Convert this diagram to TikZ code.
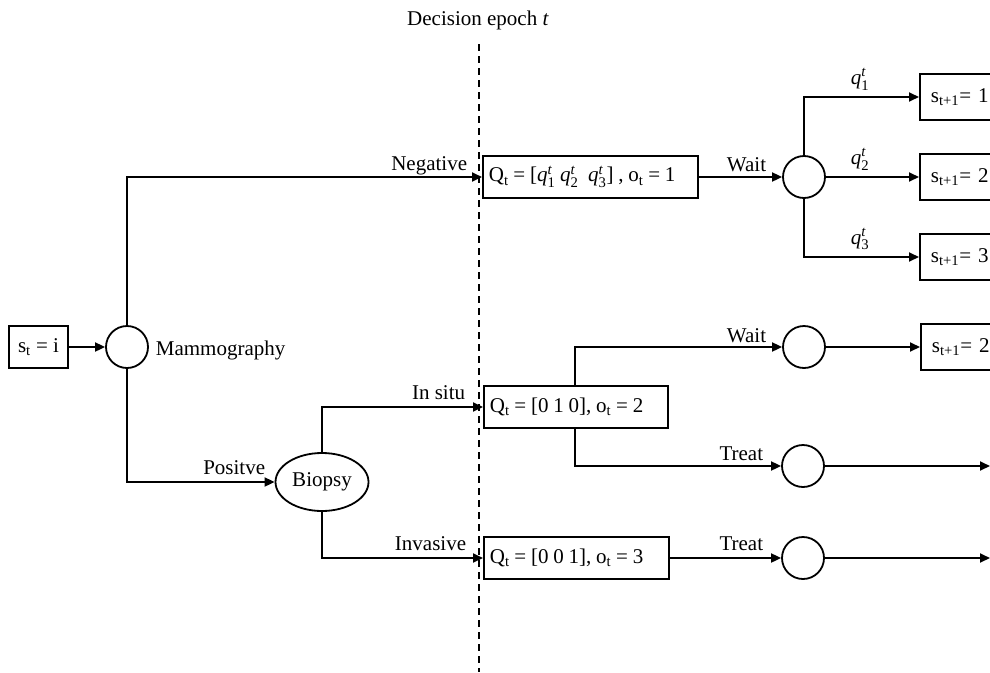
\documentclass[tikz,border=0pt]{standalone}
\usepackage{amsmath}
\usepackage{fontspec}
\setmainfont{Liberation Serif}
\usetikzlibrary{arrows.meta,shapes.geometric}
\newcommand{\qq}[1]{$\textit{q}^{\textit{t}}_{\text{#1}}$}
\newcommand{\tightbox}[1]{\spaceskip=4.8pt\relax\mbox{#1}}
\begin{document}
\begin{tikzpicture}[x=1pt,y=-1pt, line width=1.8pt,
  >={Triangle[length=10pt,width=9pt]},
  every node/.style={font=\fontsize{21}{25}\selectfont, inner sep=0pt},
  bx/.style={draw, rectangle, minimum height=42pt, anchor=west, inner xsep=6pt, align=left},
  rbx/.style={draw, rectangle, minimum height=46pt, anchor=west, inner xsep=11pt, align=left, text width=100pt},
  circ/.style={draw, circle, minimum size=42pt},
  lab/.style={anchor=base east},
  qlab/.style={anchor=south}]
\useasboundingbox (0,0) rectangle (990,672);

% decision epoch
\node[anchor=base] (title) at (478,25) {Decision epoch \textit{t}};
\coordinate (dtop) at (479,44);
\coordinate (dbot) at (479,672);
\draw[dash pattern=on 7pt off 5pt, line width=1.6pt] (dtop) -- (dbot);

% left part
\node[draw, rectangle, minimum width=59pt, minimum height=42pt] (st) at (38.5,347) {s$_\text{t}$ = i};
\node[circ] (mam) at (127,347) {};
\node[anchor=base west] (mamlab) at (155,355) {Mammography};
\node[draw, ellipse, minimum width=93pt, minimum height=58pt] (bio) at (322,482) {Biopsy};

% observation boxes
\node[bx, text width=203pt] (o1) at (482,177) {\tightbox{Q$_\text{t}$ = [\qq{1} \qq{2}\ \ \qq{3}] , o$_\text{t}$ = 1}};
\node[bx, text width=172pt] (o2) at (483,407) {\tightbox{Q$_\text{t}$ = [0 1 0], o$_\text{t}$ = 2}};
\node[bx, text width=173pt] (o3) at (483,558) {\tightbox{Q$_\text{t}$ = [0 0 1], o$_\text{t}$ = 3}};

% chance circles
\node[circ] (c1) at (804,177) {};
\node[circ] (c2) at (804,347) {};
\node[circ] (c3) at (803,466) {};
\node[circ] (c4) at (803,558) {};

% next-state boxes
\node[rbx] (r1) at (919,97) {s$_\text{t+1}$= 1};
\node[rbx] (r2) at (919,177) {s$_\text{t+1}$= 2};
\node[rbx] (r3) at (919,257) {s$_\text{t+1}$= 3};
\node[rbx] (r4) at (920,347) {s$_\text{t+1}$= 2};

\coordinate (e3) at (990,466);
\coordinate (e4) at (990,558);
\coordinate (b2x) at (575,407);

% connectors
\draw[->] (st) -- (mam);
\draw[->] (mam.north) |- (o1.west);
\draw[->] (mam.south) |- (bio.west);
\draw[->] (bio.north) |- (o2.west);
\draw[->] (bio.south) |- (o3.west);
\draw[->] (o1) -- (c1);
\draw[->] (c1.north) |- (r1.west);
\draw[->] (c1.east) -- (r2.west);
\draw[->] (c1.south) |- (r3.west);
\draw[->] (b2x |- o2.north) |- (c2.west);
\draw[->] (b2x |- o2.south) |- (c3.west);
\draw[->] (c2) -- (r4);
\draw[->] (c3.east) -- (e3);
\draw[->] (o3) -- (c4);
\draw[->] (c4.east) -- (e4);

% labels
\node[lab] (lneg) at (468,170) {Negative};
\node[lab] (lpos) at (266,474) {Positve};
\node[lab] (lsitu) at (466,399) {In situ};
\node[lab] (linv) at (467,550) {Invasive};
\node[lab] (lw1) at (767,171) {Wait};
\node[lab] (lw2) at (767,342) {Wait};
\node[lab] (lt1) at (764,460) {Treat};
\node[lab] (lt2) at (764,550) {Treat};
\node[qlab] (q1) at (860,91) {\qq{1}};
\node[qlab] (q2) at (860,171) {\qq{2}};
\node[qlab] (q3) at (860,251) {\qq{3}};
\end{tikzpicture}
\end{document}
